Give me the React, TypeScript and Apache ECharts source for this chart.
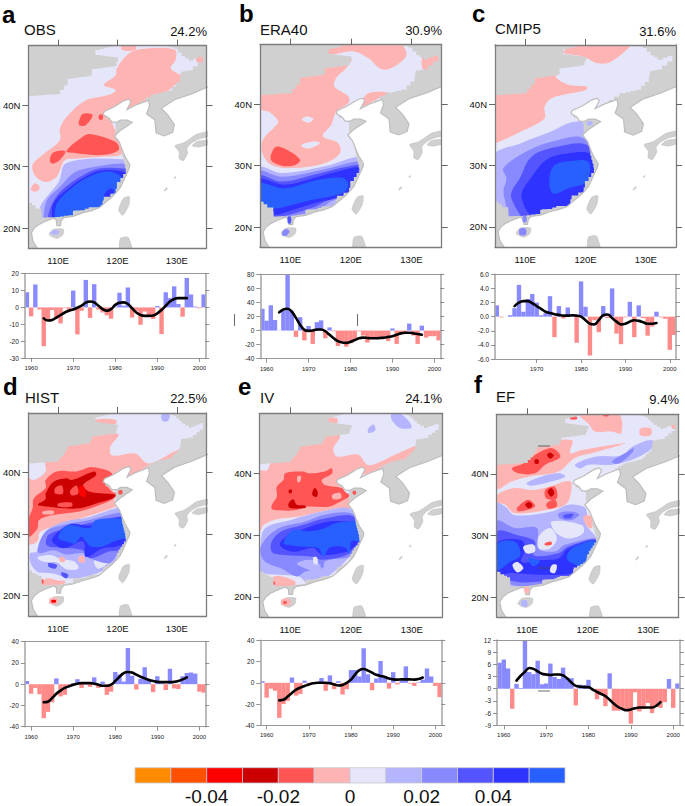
import React, { useEffect, useRef } from "react";
import * as echarts from "echarts";

const levelColors = ["#ff8c00","#ff5000","#ff0000","#cc0000","#ff5555","#ffb4b4","#e6e6fa","#b4b4ff","#8888ff","#5555ff","#2f33ff","#2860ff"];
const legendValues = [2,4,6,8,10];
const legendLabels = ["-0.04","-0.02","0","0.02","0.04"];
const R3=2,R2=3,R1=4,P=5,L=6,B1=7,B2=8,B3=9,B4=10,B5=11;
type Region=[number,number[]];

const years59 = Array.from({length:43},(_, i)=>1959+i);
const years61 = Array.from({length:41},(_, i)=>1961+i);
const years63 = Array.from({length:35},(_, i)=>1963+i);
const years65 = Array.from({length:33},(_, i)=>1965+i);

const obsBars=[9,-5.3,13.6,-1.2,-23,-7.5,-1.5,-6,-9.5,-0.3,-2.5,10,-16,-2,16.3,-6.2,13.8,-1.3,-3,-4.7,-6.7,0.5,8.7,1,11.8,-6,-2,-10.3,-2.5,-5,-6.8,0.8,-15.8,9,5.5,12.5,2,-5.5,17.5,7.7,0.5,-0.5,7.7];
const obsLine=[-6.5,-7.8,-7.5,-6,-4.5,-3,-2,-1.2,-0.2,1,2.8,3.5,3,1,-1,-2,-1,1.5,2.8,3,2,-0.5,-3,-4.5,-5,-5,-4.8,-3.5,-1.5,1,3.5,5,5.5,5.5,5.5];
const eraBars=[31,14,36,15,0.3,28,80,28,-9,19,-14,6.5,-19,12,14.5,-11,4.5,-1,-22,-15,-23,-18,-14,-1,-7,-17,-10,-10,-10,-8,-15,3,-19,-2,-2,10,-7,-19,7,-10,-8,-8,-14];
const eraLine=[26,30,31,27,18,8,1,-0.5,0,1.5,1.5,-1,-6,-11,-15,-17,-17.5,-16,-13.5,-11,-10,-10.5,-11,-11,-10.5,-10,-9,-8,-6,-4,-3,-3,-4,-5,-6];
const cmipBars=[1.6,-0.1,0,0.2,1.2,4.5,0.7,2.5,3.2,2,0.2,0.5,2.9,-2.9,1.5,-0.25,1.3,0.1,-3.7,5,1.4,-5.5,-0.5,-2.2,1.5,-0.2,4,-2.4,-3.9,-0.1,2.1,-2.9,1.6,-0.2,-2.7,-1.4,0.7,-0.1,-0.3,-4.7,-2.6];
const cmipLine=[1.5,2,2.2,2.2,1.9,1.5,1.1,0.7,0.5,0.35,0.25,0.15,0.15,0.2,0.15,0,-0.5,-1,-1.1,-0.5,0.2,0.3,-0.2,-0.7,-1.1,-1,-0.7,-0.5,-0.6,-0.8,-1,-1,-0.9];
const histBars=[3,-9,-3.5,-9.5,-32,-26,-17,5.5,-11.5,-10,-1,1,4.7,-3.5,1.5,-2.5,6.5,-3.5,2.5,-10,-7,11.5,9,2.5,34,8,-5,5,16,5,-7.5,7.5,1,-5.5,14.5,-4,-4.5,7.5,10.5,11,10,-7,-8];
const histLine=[-17,-16.5,-13,-9,-6,-3.5,-2,-0.5,0.5,1,1,1,0.5,-0.5,-1.5,-1.5,-0.5,3,7,10.5,11.5,11,9,7,5.5,4,3,2.2,2,2,2,2.2,3,4.5,6.5];
const ivBars=[1.5,-14,-5.5,-7.5,-33,-20,-17,5,-12,-10.5,2,-1,0,-0.5,4.5,-7.5,7,-6,1.5,-11,-6,12,12,6,32.5,8,-7,4,20.5,6.5,-5.5,10,-1.5,2,15.5,-0.7,-3,0.5,3,13.5,6,-3,-13.5];
const ivLine=[-16.5,-16,-13,-9.5,-6.5,-4.5,-3,-1.5,-0.5,0,0,0,-0.5,-1.5,-2.5,-2,0,3,8,12,13,11.5,9.5,7.5,6.5,5.5,4,3.2,3,3.2,3.2,3.2,3,3.5,5];
const efBars=[6.4,7.2,5,-4.9,1.2,0.2,12,4.1,3.6,6.9,1.1,1.3,6.2,2.9,2.4,5.2,2.7,2.6,-4.1,1,0.9,2.2,-0.2,-2.6,-1.2,-4.3,3.8,-5.4,-5.4,-4.9,-5.5,-8.6,-0.9,-5.6,-5,-3.5,-6,-4.5,-4.7,-3.3,2.4,-4.7,1.3];
const efLine=[2,3.2,4.2,5.1,4.9,4.3,3.7,3.5,3.4,3.5,3.5,3.3,2.5,1.5,0.7,0.5,0.4,0.4,-0.2,-0.8,-1.3,-1.8,-2.7,-3.7,-4.5,-5,-5.3,-5.1,-4.8,-4.6,-4.6,-4.6,-4.6,-4.2,-3.3];

// Coast and masks, lon/lat
const oceanOutline=[106.5,16.7,105.8,17.8,105.5,19.2,106,20,106.8,20.6,107.9,21.1,109.2,21.6,109.7,21.3,109.8,20.4,110.4,20.4,110.5,21.2,111,21.7,112.5,21.9,114.2,22.5,115.5,22.8,116.9,23.3,118,24.2,119.1,25.1,119.8,25.8,120.5,26.6,121.3,28.3,122,29.8,122.1,30.3,121.3,31.6,120.9,32.5,120.3,34,119.5,35,120.5,35.9,122.5,37.2,121.6,37.6,120.5,37.6,119.8,37.2,119,37.3,118.6,37.9,117.6,38.5,117.8,39,119.4,39.7,121,40.7,121.9,41,122.3,40.6,121.6,39.3,123,40,125.2,40.8,125.4,39.9,124.9,38.6,126.3,37.6,126.5,35.5,127.9,35,129.3,35.6,129.6,36.8,128.5,38.4,127.4,39.5,129.6,40.9,132.6,41.9,135.5,43.1,135.5,16,106.5,16];
const islandOutlines=[
[129.7,33.4,131.2,33.9,132.3,34.6,133.4,35.3,135.5,35.7,135.5,35,133.4,34.4,132.4,33.8,131.7,33,131.8,32.2,131.1,31,130.4,31.3,130.4,32.4],
[132.6,33.4,133.4,34.1,135.5,34.3,135.5,33.7,133.7,33.2],
[120.2,22.9,121,24.8,122,25.1,121.9,23.7,120.9,22.1],
[108.5,18.9,109.2,19.8,110.9,19.8,110.8,18.9,109.8,18.3],
[120.4,16,120.5,18.3,121.8,18.5,122.5,16],
[127.9,26.1,128.3,26.6,128.4,26.4,128,26],
[129.6,28.2,129.8,28.4,129.85,28.2,129.65,28.05],
];
const validOutline=[105,41.5,109.7,41.8,111,43.2,111.6,44.3,115.2,44.8,115.7,45.9,119.6,46.4,120.1,47.8,116.3,48.3,116.3,49,119.3,49.7,127.8,49.7,129.5,49.2,130.8,48,132,47.3,134.4,48.2,134.4,47,132.7,45.7,132,45.6,130.8,45.4,130.5,43.7,129.2,42.4,126.7,41.8,125.6,41.3,123,39.5,119,38.8,118,37.8,119.7,37.3,119.7,35.4,120.5,34,120.8,31.6,121.3,29.7,121.4,28.8,120.5,27.5,119.9,26.4,119.7,25.6,118.8,25.1,117.7,24.5,117.5,23.4,115.8,23.4,114.5,22.9,112.8,22.8,112.5,22.1,110.3,21.8,107.3,21.7,107.2,23.2,106.2,23.7,105,24.5];

const obsRegions:Region[]=[
[P,[117.7,43.3,119.7,44.9,119.9,46,121.6,48.2,123.5,49.1,129.6,49.1,129.8,47.4,129,46,131.2,44.4,129.3,43,126.8,40.8,123,39.2,119.7,38.1,119.1,37.3,119.7,35.7,120.5,33.8,120.7,32,117.5,31.6,113.1,31.3,111.2,31.1,110.3,29.4,109.8,28.4,108.1,27.5,106.5,28.1,105.7,29.4,105.8,30.5,107.6,32.1,110.3,34.3,110.3,36.2,111.7,38.4,114.7,40.8,118.6,41.7,119.7,42.5]],
[P,[120.8,50,123,50,123,49,120.8,49]],
[P,[105.4,26.4,106.1,27.3,106.9,26.7,106.5,26,105.7,26]],
[P,[133.3,48.2,134.5,48.4,134.5,47,133.4,47]],
[R1,[113.5,37.3,114.2,38.6,115.8,38.4,114.7,36.8,113.6,36.7]],
[R1,[116.9,38.4,117.5,38.5,117.5,37.7,116.9,37.7]],
[R1,[111.4,32.5,114.2,34.9,115.4,35.3,119.7,34,120.2,32.7,117.5,31.9,113.1,32.2]],
[R1,[108.6,31.1,109.2,32.3,111.2,32.5,110.3,31.1,109,30.5]],
[R1,[125.2,40.9,126,41,125.7,40.6]],
[B1,[106.9,21,107,23.5,108.1,25.1,110.1,27.5,111.4,30.6,120.8,31.2,123,30,123,24,118,20,107,20]],
[B2,[107.5,21,108.1,24.5,110.3,26.7,112.5,28.9,114.7,29.7,120.8,30.5,123,30,123,24,118,20,107.5,20]],
[B3,[108.1,21,109,24,110.9,26.4,114.2,28.6,116.9,29.7,121,29.7,123,29.5,123,24,118,20,108.1,20]],
[B4,[109,21,109.2,24,112,26.7,114.7,28.4,117.5,29.4,121.3,29.1,123,28,123,24,118,20,109,20]],
[B5,[109.4,21,109.8,24,112.5,26.7,115.3,28.4,118,29.2,120,28.8,121.5,27,120,23,112,20,109.4,20]],
[B4,[117.7,25.1,118.6,26.4,119.4,26.2,118.8,24.8]],
];
const obsSpots:Region[]=[[B1,[108.6,19.2,109.4,19.7,110.2,19.5,109.9,18.9]]];

const eraRegions:Region[]=[
[P,[116.3,49.4,116.3,50,127.8,50,129.2,48.1,127.3,46.2,125.1,45.7,122.9,47.5,120.4,48.6,116.3,48.1]],
[P,[132,48.1,134.7,48.6,134.4,46.7,132,45.6]],
[P,[104.7,42.4,111.9,45,120.1,47.3,119.6,46.4,119,45.6,117.6,44.3,117.3,42.9,119.6,41.3,119.6,40.2,117.6,38.8,116.8,36.7,115.4,34.8,117.9,33.7,118.2,32,115.7,30.4,110.2,29.6,106.9,30.1,105.4,32,105.5,34.2,107.5,36.4,108,37.2,106.4,38.8,104.8,39.2]],
[P,[121.8,40.2,122.9,41.8,126.4,41.8,124,40.7,122.3,39.6]],
[L,[111.9,37.5,112.7,38,113.8,37.6,113,37]],
[L,[111.8,33.3,113.5,33.9,114.9,33.7,113,32.8]],
[R1,[106.8,31,107.5,33,108.8,32.9,111.6,31,110.8,30.1,108.6,30]],
[B1,[104.7,29.6,108.6,28.8,115.7,29.9,121.2,31.5,122.3,31,122.6,24.4,115.7,20.9,104.7,20.6]],
[B2,[104.7,29,108.6,28.2,115.2,29.3,121.2,30.7,122.3,30.4,121.2,26,116.8,24.2,114.1,22.3,110.5,21.4,104.7,21.2]],
[B3,[104.7,28.3,108.6,27.4,114.6,28.7,121.2,30.1,121.8,29.3,120.4,26,116.8,24.7,113.5,23.1,107.1,21.4,104.7,21.4]],
[B4,[104.7,27.7,109.1,26.9,114.6,28.2,120.1,29.6,121.3,29.6,120.4,27.1,119,25.2,114.1,23.9,110.2,22.7,107.1,22,104.7,23.3]],
[B5,[104.7,27.1,109.1,26.3,114.6,27.7,118.7,28,119.6,26.9,118.7,25.6,113.5,24.4,110.2,23.6,107.1,23,104.7,23.6]],
];
const eraSpots:Region[]=[[B2,[108.7,19.3,109.4,19.7,109.9,19.3,109.4,18.6,108.7,18.6]],[B3,[109.6,21.7,110.1,21.7,110.1,20.6,109.6,20.6]]];

const cmipRegions:Region[]=[
[P,[116.3,48.6,118.3,50,127.4,50,124.3,47,122.1,46.7,119.6,47.8,116.6,48.3]],
[P,[104.7,41.3,111.6,44.8,114.9,45.3,115.2,44.3,117.2,43.2,120.2,42.9,120.2,42.4,117.7,41.8,114.4,41,113.2,39.6,113.2,37.7,109.4,35.6,105,33.6,104.7,33.6]],
[B1,[104.7,31.5,109.4,33.7,114.4,35.6,117.4,37,119.6,37,120.2,34.2,121.9,28.8,114.9,21.2,104.7,21.2]],
[B2,[106.4,29.6,110.2,32.3,114.4,33.9,119.6,34.5,122,29.9,116,20,106.9,21,106.9,23.1,106.4,25.8,106.9,27.9]],
[B3,[107.8,25.8,109.1,27.9,111.1,31.5,115.5,33.1,120.2,33.4,122,29.9,121,25,115,20.5,110.2,21,107.8,24.4]],
[B4,[109.4,25,111.1,28.2,113.6,31,117.2,32,120.7,32,121.8,30.4,121.3,28.2,120.8,25,118,22,111.6,21.5]],
[B5,[114,27.1,114.7,29.9,117.2,30.7,120.5,30.6,120.2,27.4,117.2,26.3,114.7,25.4]],
];
const cmipSpots:Region[]=[[B2,[109.1,19.7,110.1,19.7,110.1,18.7,109.1,18.7]],[B2,[109.6,21.7,110.2,21.7,110.2,20.8,109.6,20.8]],[B1,[120.3,37.2,121.1,37.2,121.1,36.6,120.3,36.6]]];

const histRegions:Region[]=[
[P,[107.9,41.8,112,45,119.7,46.4,120.2,46.1,118.8,44.2,119.1,42.8,123,43.1,125.2,41.5,130.1,43.7,131.8,44.2,130.7,42.3,124.6,40.2,119.7,38.5,119.4,35.8,119.9,34.7,117.5,33.7,112,32,107,30.4,106.5,28.8,105.1,28.5,104.8,39.1,105.9,38.8,107.9,40.2]],
[P,[116.3,48.6,119.7,48.6,119.7,47.9,116.3,47.9]],
[R1,[107.9,38.8,109.8,40.2,113.1,40.2,115.8,40.9,119.1,39.9,118,38.5,119.1,36.9,119.9,36.6,119.4,35.8,116.9,34.7,113.6,33.7,109.2,33.1,106.8,32.3,106.5,30.9,105,29.6,105,32.3,105.7,34.2,105.9,35.8,107.9,37.5]],
[R2,[106.6,34.8,107.9,35.7,107.9,36.6,109.2,38.5,111.4,39.1,112.3,38.8,116.1,40.2,116.4,39.6,114.2,38,115.3,36.9,119.7,36.4,119.1,35.8,116.4,35,113.6,34.2,110.9,34.2,108.1,34.5]],
[R1,[109.5,37.5,110.6,37.9,110.8,36.6,109.5,36.6]],
[R1,[112,37,113.1,37.9,113.4,36.6,112.3,36.3]],
[R1,[110,35,112.3,35.1,112.3,34.5,110,34.5]],
[R3,[113.6,37.7,114.4,37.7,114.6,36.1,113.7,36.3]],
[P,[107.4,33.7,109.2,33.8,109.2,33.3,107.4,33.3]],
[B1,[106.8,28.5,108.1,30.7,110.9,32,115.3,32.8,119.7,34.2,121,34.2,122.4,30.4,120.2,26.6,119.1,25,115.8,23.4,112,22.8,109.2,23.6,106.5,23.9,105.3,25.5,105.3,26.9,106.5,27.2]],
[L,[106.5,26.2,108.7,26.6,110.3,26,112.8,25.5,113.4,24.4,111.4,24.3,109.8,25.4,107.6,25.5]],
[L,[116.1,25.8,118,26.6,118.3,25.3,116.7,24.4]],
[P,[113.4,26.2,114.2,26.5,114.5,25.5,113.6,25.4]],
[P,[110.2,26.2,110.9,26.3,111.2,25.6,110.4,25.5]],
[P,[107,22,108.1,22.8,109.8,22.5,111.2,22.3,110.3,21.5,107.9,21.6]],
[R1,[107.1,22.6,107.5,22.6,107.5,22,107.1,22]],
[B2,[106.5,27.4,107.9,30.4,110.9,31.5,115.3,32.3,119.7,33.4,121,33.4,121.8,29.3,119.9,26.6,118.6,25.3,115.3,26.1,114.2,26.9,111.4,26.7,109.2,27.4,107,26.9]],
[B3,[108.1,28.2,108.4,29.9,111.4,30.9,115.3,31.8,119.7,32.8,120.8,32.6,121.8,29.3,120.2,27.4,118.6,27.2,115.4,26.1,114.2,27.4,110.3,27.8]],
[B3,[108.4,25.3,109.8,25,109.5,24.4,108.4,24.7]],
[B3,[110.6,23.8,111.7,23.4,111.4,22.8,110.6,23.3]],
[B4,[109,28.8,109.2,29.6,112,31.6,115.3,31.4,119.9,32.6,122,33,122,29,119.9,28,117.5,27.7,114.7,26.3,114.2,28.8,110.9,27.7]],
[B5,[110.1,29.3,111.4,28.8,112.8,28.5,113.9,29.6,114.7,28.8,115.5,28,117.5,28,119.4,28.8,122,29.9,122,33,120.7,32.6,116.4,32.3,115.3,31,112,31.5,110.6,30.7]],
];
const histSpots:Region[]=[[P,[108.6,19.6,109.9,19.6,109.9,18.7,108.6,18.7]],[R3,[108.9,19.3,109.6,19.3,109.6,18.9,108.9,18.9]],[R1,[120.2,37.1,120.8,37.1,120.8,36.5,120.2,36.5]],[B1,[127.4,49.4,128.8,49.4,128.5,48.4,127.6,48.4]]];

const ivRegions:Region[]=[
[P,[107,41.9,111.6,44.6,117.4,46.5,118.2,45.9,117.1,44,117.7,42.7,121.2,43,122.9,41.3,127.2,43,131.6,44.6,130.5,42.2,122.9,40,118.2,38.7,119.8,36,120.4,34.6,117.4,34.3,111.5,33,107.5,32.5,105.6,31.6,105.1,30.6,104.8,30.6,104.8,40.3,106.2,40.5]],
[P,[116.3,48.9,117.7,48.9,117.7,48.1,116.3,48.1]],
[R1,[107,34.9,107.8,36.2,107.8,37.8,108.9,38.9,109.2,40,112.2,40.3,113,40,115.7,40.3,116.8,40.8,116.9,40,115.2,38.9,115.7,38.1,118.5,37.6,119,37,119.8,36.4,118.2,35.4,116.3,34.6,112.5,34.6,110.8,34,108.1,34,107,34.2]],
[R2,[109.7,35,110.5,35.8,111.1,34.9,112.5,34.8,112.5,34.4,110,34.4]],
[R2,[113.7,37.1,114.1,37.6,114.5,37,114.4,36.2,113.7,36.4]],
[R2,[109.8,37.3,110.3,37.3,110.2,36.8,109.8,36.8]],
[P,[116.9,36.5,118.2,36.8,118.4,36,117.1,35.8]],
[P,[111.2,39.5,111.8,39.5,111.6,38.6,111.2,38.6]],
[B1,[105.1,28.1,105.9,31.1,110.3,32.5,115.2,33.8,119.8,34.3,121.2,31.6,121.5,28.9,119,25.7,115.7,23,113,22.2,111.4,23.3,108.1,23.6,105.9,23.8,104.8,24.5]],
[B2,[105.1,27.3,105.6,28.9,108.1,31.1,112.5,32.2,115.7,33.3,120.1,33.5,121.2,31.6,121.2,28.9,119.6,26.5,116.8,26,115.2,24.6,112.5,24.1,111.1,23.3,108.6,24.6,105.9,25.7]],
[B1,[111.1,25.4,113.3,26,114.9,25.2,114.9,23.8,112.5,24.6]],
[B1,[115.7,25.7,118.8,26,117.4,24.4,116,23.8]],
[B3,[107,29,108.6,30.6,111.9,31.6,115.7,32.7,120.4,33,120.9,29.5,119.6,27,115.2,26,113.8,26.5,108.6,26.8,107,27.3]],
[B4,[108.3,28.4,109.7,30,112.5,31.1,116.3,32.2,120.7,32.2,122,32.5,122,29,120.4,28,119.3,27.3,115.2,26.8,113.8,27.9,110.5,27.3]],
[B5,[108.9,28.7,110.5,30.8,113,30.6,115.7,31.1,117.4,31.9,120.7,32.3,122,32.5,122,29,120.1,29,119.8,27,119,28,116.5,28,115.5,26.5,114.6,27.9,112.5,28.1,110.3,28.3]],
[L,[113.8,26.4,114.4,26.4,114.5,25.3,113.9,25.4]],
[P,[107,23,108.1,23.4,110.8,22.5,110.5,21.5,107.5,21.7]],
[R1,[107.1,22.4,107.5,22.4,107.5,22,107.1,22]],
[B1,[126.7,49.7,128.1,49.7,130,47.5,128.1,47.3,126.7,48.6]],
[B1,[123.7,47.9,124,47,122.9,46.5,122.8,47.2]],
];
const ivSpots:Region[]=[[P,[108.6,19.6,110,19.6,110,18.7,108.6,18.7]],[R1,[108.9,19.3,109.4,19.3,109.4,18.9,108.9,18.9]],[R1,[120.3,37.1,120.8,37.1,120.8,36.6,120.3,36.6]]];

const efRegions:Region[]=[
[P,[118.7,49.6,125.1,49.7,125.5,46.6,124,46.9,121.2,46.9,120.1,48.2]],
[P,[128.7,47.4,130.4,47.4,130.4,46.3,128.7,46.3]],
[P,[133.9,48.2,134.7,48.2,134.7,47.4,133.9,47.4]],
[P,[105,42,111.9,44.7,117.4,45.5,117.1,43.4,119,43.9,126.2,45,121.2,43.5,117.9,42.6,115.2,40.4,110.5,39.6,107.5,38.8,105,37.6]],
[P,[105,36.6,108,37.7,110.8,37.4,113.5,37.9,117.1,38.8,117.1,36.3,116.3,35,114.1,34.3,108,33.6,106.4,35,105,35.5]],
[B1,[109.9,38.5,112.4,39.6,115.2,40.1,116.3,39.6,114.1,38.8,110.8,38.1]],
[B1,[117.9,41.5,121.2,42.8,125.6,43,127.3,44.4,130.6,45.5,130.6,44.2,127.3,42.3,124,41.5,120.1,41.5,118.7,40.9]],
[B2,[124,42,126.2,43.4,127.6,44.2,127.3,43.4,125.1,41.7]],
[R1,[107.5,40.9,109.4,41.7,111.3,43.1,114.1,44.2,115.5,42.8,113,41.5,111.3,40.1,108.6,40.1]],
[R1,[108.3,34.4,110.2,35.8,111.3,34.7,108.6,33.9]],
[R1,[113,37.4,114.6,37.9,114.9,36,113.2,36]],
[R1,[113.2,35.2,114.6,35.8,114.9,34.7,113.5,34.4]],
[R2,[109.7,35,110.3,35.5,110.9,34.9,110.3,34.4]],
[R2,[113.4,37.1,114,37.7,114.5,36.9,114,36.3]],
[R2,[113.3,43.1,113.8,43.5,114.4,43,113.8,42.5]],
[R2,[111.3,42.3,111.9,42.3,111.9,41.7,111.3,41.7]],
[R1,[117.1,49.3,118.2,49.3,118.2,48.9,117.1,48.9]],
[R1,[122.6,49.7,123.4,49.7,123.4,49.4,122.6,49.4]],
[B1,[105,35.2,106.4,34.7,108,33.3,114.1,33.9,116.8,35,119.3,34.7,119.9,33.6,119.6,32,121.5,29.5,122,27,118.5,22,114.1,20.5,106.9,20.5,105,23.6]],
[P,[119.3,33.1,120.7,33.1,120.7,31.2,119.9,31.5]],
[L,[114.1,32.3,119,31.7,119.3,30.4,116.8,29.5,114.6,30.6]],
[L,[111.9,29.8,113.8,31.2,114.9,29.5,113.8,27.9,111.9,27.9]],
[B2,[105,32.3,108,31.2,111.6,31.2,111.9,27.9,114.6,27.4,116.3,28.5,122,29.3,120,24.5,116.3,22,111.9,21.5,107.5,22,105,23.6]],
[B3,[105,30.6,108.6,30,111.3,29,111.1,26.8,115.2,27.1,116.8,28.2,121.5,29.2,120,24.5,116.8,23,112.4,22.5,108,22.5,105,23.8]],
[B4,[105,28.7,108.9,29.3,109.7,27.9,109.1,25.7,112.4,26,115.2,26.3,116.8,27.9,121.3,29.1,120,25,117.4,23.8,112.4,23.6,107.5,23.9,105,23.8]],
[B5,[105,28.5,108,29,108.9,26.8,107.2,25.7,105,24.4]],
[B5,[116.6,26.8,117.9,28.2,121.3,29,120.2,25,117,25.7]],
[B5,[110.2,26.3,112.1,25.8,111,25]],
[L,[107.6,25.2,108.4,25.7,109.4,24.7,108.4,24]],
[L,[109.4,28.2,111.1,28.5,111.3,27.4,109.9,27.1]],
[L,[114.1,25.2,114.9,25.2,114.6,23.9,113.8,24.1]],
[R1,[112.9,28.7,114,29,114,28.5,113,28.4]],
[B2,[115.2,33.6,117.1,33.9,118.6,33.4,117.3,32.5,115.4,32.8]],
[B3,[116,33.3,117.6,33.5,117.3,32.9,116.2,32.8]],
];
const efSpots:Region[]=[[B1,[109.1,19.4,110,19.4,110,18.5,109.1,18.5]],[P,[109.6,21.6,110.3,21.6,110.3,20.7,109.6,20.7]]];

const yearTicks=[1960,1970,1980,1990,2000];
const lonTicks=[110,120,130];
const latTicks=[20,30,40];

type Panel={letter:string;name:string;pct:string;lx:number;ly:number;tx:number;ty:number;px:number;py:number;
 map:[number,number,number,number];bar:[number,number,number,number];xMin:number;xMax:number;
 yMin:number;yMax:number;yInt:number;dec:number;barYears:number[];bars:number[];lineYears:number[];line:number[];
 regions:Region[];spots:Region[];step:number};

const panels:Panel[]=[
{letter:"a",name:"OBS",pct:"24.2%",lx:2,ly:14,tx:24,ty:29,px:207,py:31,map:[24.5,45.7,182,202.6],bar:[24.8,273.7,180.5,84.3],xMin:1958.5,xMax:2001.4,yMin:-30,yMax:20,yInt:10,dec:0,barYears:years59,bars:obsBars,lineYears:years63,line:obsLine,regions:obsRegions,spots:obsSpots,step:0.75},
{letter:"b",name:"ERA40",pct:"30.9%",lx:239,ly:13,tx:260,ty:29,px:442,py:30,map:[260,44.7,181.7,202.6],bar:[260.3,274.3,180,84.4],xMin:1958.5,xMax:2001.4,yMin:-40,yMax:80,yInt:20,dec:0,barYears:years59,bars:eraBars,lineYears:years63,line:eraLine,regions:eraRegions,spots:eraSpots,step:0.75},
{letter:"c",name:"CMIP5",pct:"31.6%",lx:472,ly:13,tx:495,ty:28,px:676,py:31,map:[495,45,181,202],bar:[495,274.3,181,84.7],xMin:1960.6,xMax:2001.4,yMin:-6,yMax:6,yInt:2,dec:1,barYears:years61,bars:cmipBars,lineYears:years65,line:cmipLine,regions:cmipRegions,spots:cmipSpots,step:0.75},
{letter:"d",name:"HIST",pct:"22.5%",lx:3,ly:386,tx:25,ty:397,px:207,py:398,map:[24.5,413,182,203],bar:[24.8,641.7,180.5,85],xMin:1958.5,xMax:2001.4,yMin:-40,yMax:40,yInt:20,dec:0,barYears:years59,bars:histBars,lineYears:years63,line:histLine,regions:histRegions,spots:histSpots,step:0.5},
{letter:"e",name:"IV",pct:"24.1%",lx:238,ly:386,tx:260,ty:397,px:442,py:398,map:[259.7,413.3,182.6,204],bar:[260.3,640.3,181,85],xMin:1958.5,xMax:2001.4,yMin:-40,yMax:40,yInt:20,dec:0,barYears:years59,bars:ivBars,lineYears:years63,line:ivLine,regions:ivRegions,spots:ivSpots,step:0.5},
{letter:"f",name:"EF",pct:"9.4%",lx:474,ly:384,tx:496,ty:396,px:679,py:399,map:[496.7,414.3,182,203],bar:[497,640,183,85.3],xMin:1958.4,xMax:2001.6,yMin:-9,yMax:12,yInt:3,dec:0,barYears:years59,bars:efBars,lineYears:years63,line:efLine,regions:efRegions,spots:efSpots,step:0.5},
];

const FONT="'Liberation Sans', Arial, sans-serif";
const LAND="#d0d0d0";
const chunk=(a:number[])=>{const o:number[][]=[];for(let i=0;i<a.length;i+=2)o.push([a[i],a[i+1]]);return o;};
function stairs(a:number[],step:number){
  const p=chunk(a);const out:number[][]=[p[0]];
  for(let i=0;i<p.length-1;i++){
    const [x0,y0]=p[i],[x1,y1]=p[i+1];
    const n=Math.max(1,Math.round(Math.max(Math.abs(x1-x0),Math.abs(y1-y0))/step));
    for(let k=1;k<=n;k++){
      const x=x0+(x1-x0)*k/n,y=y0+(y1-y0)*k/n;
      out.push([x,out[out.length-1][1]]);out.push([x,y]);
    }
  }
  return out;
}
type Draw={pts:number[][];fill:string;smooth?:number;stroke?:string;lw?:number};
function drawList(p:Panel):Draw[]{
  const list:Draw[]=[];
  list.push({pts:[[105,49.7],[135,49.7],[135,16.7],[105,16.7]],fill:levelColors[L]});
  p.regions.forEach(([lv,a])=>list.push({pts:chunk(a),fill:levelColors[lv],smooth:0.35}));
  const hole=stairs(validOutline,p.step);
  list.push({pts:[[105,41.5],[105,16.7],[135,16.7],[135,49.7],[105,49.7],[105,41.5],...hole,[105,41.5]],fill:LAND});
  list.push({pts:chunk(oceanOutline),fill:"#ffffff",stroke:"#bdbdbd",lw:1.2});
  islandOutlines.forEach(a=>list.push({pts:chunk(a),fill:LAND,stroke:"#bdbdbd",lw:0.6,smooth:0.2}));
  p.spots.forEach(([lv,a])=>list.push({pts:chunk(a),fill:levelColors[lv],smooth:0.3}));
  return list;
}

function buildOption(){
  const grid:any[]=[],xAxis:any[]=[],yAxis:any[]=[],series:any[]=[],graphic:any[]=[];
  const txt={color:"#111",fontFamily:FONT};
  panels.forEach(p=>{
    // map
    let g=grid.length;let xi=xAxis.length;let yi=yAxis.length;
    grid.push({left:p.map[0],top:p.map[1],width:p.map[2],height:p.map[3],containLabel:false});
    const mapLine={show:true,onZero:false,lineStyle:{color:"#7d7d7d",width:1.3}};
    const mapTick={show:true,length:6,lineStyle:{color:"#666",width:1}};
    xAxis.push({type:"value",gridIndex:g,position:"bottom",min:105,max:135,z:5,axisLine:mapLine,splitLine:{show:false},
      axisTick:{show:false},axisLabel:{show:true,customValues:lonTicks,formatter:(v:number)=>v+"E",fontSize:9.5,margin:7,...txt}});
    xAxis.push({type:"value",gridIndex:g,position:"top",min:105,max:135,z:5,axisLine:mapLine,splitLine:{show:false},
      axisTick:{...mapTick,customValues:lonTicks},axisLabel:{show:false}});
    yAxis.push({type:"value",gridIndex:g,position:"left",min:16.7,max:49.7,z:5,axisLine:mapLine,splitLine:{show:false},
      axisTick:{...mapTick,customValues:latTicks},axisLabel:{show:true,customValues:latTicks,formatter:(v:number)=>v+"N",fontSize:9.5,margin:8,...txt}});
    yAxis.push({type:"value",gridIndex:g,position:"right",min:16.7,max:49.7,z:5,axisLine:mapLine,splitLine:{show:false},
      axisTick:{...mapTick,customValues:latTicks},axisLabel:{show:false}});
    const dl=drawList(p);
    series.push({type:"custom",xAxisIndex:xi,yAxisIndex:yi,silent:true,clip:true,z:2,
      data:dl.map((_,i)=>[i,i]),
      renderItem:(params:any,api:any)=>{
        const d=dl[params.dataIndex];
        return {type:"polygon",shape:{points:d.pts.map(q=>api.coord(q)),smooth:d.smooth||0},
          style:{fill:d.fill,stroke:d.stroke||null,lineWidth:d.lw||0}};
      }});
    // bars
    g=grid.length;xi=xAxis.length;yi=yAxis.length;
    grid.push({left:p.bar[0],top:p.bar[1],width:p.bar[2],height:p.bar[3],containLabel:false});
    const sideLine={show:true,onZero:false,lineStyle:{color:"#aaaaaa",width:1.6}};
    const flatLine={show:true,onZero:false,lineStyle:{color:"#999999",width:1}};
    const barTick={show:true,length:4,lineStyle:{color:"#777",width:0.8}};
    xAxis.push({type:"value",gridIndex:g,position:"bottom",min:p.xMin,max:p.xMax,z:5,axisLine:flatLine,splitLine:{show:false},
      axisTick:{...barTick,customValues:yearTicks},axisLabel:{show:true,customValues:yearTicks,fontSize:6,margin:7,formatter:(v:number)=>String(v),color:"#222",fontFamily:FONT}});
    xAxis.push({type:"value",gridIndex:g,position:"top",min:p.xMin,max:p.xMax,z:5,axisLine:flatLine,splitLine:{show:false},axisTick:{show:false},axisLabel:{show:false}});
    yAxis.push({type:"value",gridIndex:g,position:"left",min:p.yMin,max:p.yMax,interval:p.yInt,z:5,axisLine:sideLine,splitLine:{show:false},
      axisTick:barTick,axisLabel:{show:true,fontSize:6.5,margin:6,formatter:(v:number)=>v.toFixed(p.dec),color:"#222",fontFamily:FONT}});
    yAxis.push({type:"value",gridIndex:g,position:"right",min:p.yMin,max:p.yMax,interval:p.yInt,z:5,axisLine:sideLine,splitLine:{show:false},
      axisTick:barTick,axisLabel:{show:false}});
    series.push({type:"bar",xAxisIndex:xi,yAxisIndex:yi,silent:true,barWidth:4.4,
      data:p.bars.map((v,i)=>[p.barYears[i],v]),
      itemStyle:{color:(o:any)=>o.value[1]>=0?"#8a8aff":"#ff8a8a"}});
    series.push({type:"line",xAxisIndex:xi,yAxisIndex:yi,silent:true,symbol:"none",smooth:0.4,z:4,
      data:p.line.map((v,i)=>[p.lineYears[i],v]),lineStyle:{color:"#000",width:2.6,cap:"round"}});
    graphic.push({type:"text",x:p.lx,y:p.ly,style:{text:p.letter,font:`bold 24px ${FONT}`,fill:"#000",verticalAlign:"middle"}});
    graphic.push({type:"text",x:p.tx,y:p.ty,style:{text:p.name,font:`15px ${FONT}`,fill:"#111",verticalAlign:"middle"}});
    graphic.push({type:"text",x:p.px,y:p.py,style:{text:p.pct,font:`13px ${FONT}`,fill:"#111",align:"right",verticalAlign:"middle"}});
  });
  // stray rule marks present in the figure
  [[234.5,314,234.5,326],[357.5,314,357.5,326],[538,446,550,446],[538,568,550,568],[538,691,550,691]].forEach(s=>
    graphic.push({type:"line",shape:{x1:s[0],y1:s[1],x2:s[2],y2:s[3]},style:{stroke:"#444",lineWidth:0.8},z:20}));
  // legend
  const g=grid.length,xi=xAxis.length,yi=yAxis.length;
  grid.push({left:135,top:767.7,width:430,height:19,containLabel:false});
  xAxis.push({type:"value",gridIndex:g,min:0,max:12,axisLine:{show:false},axisTick:{show:false},splitLine:{show:false},
    axisLabel:{show:true,customValues:legendValues,formatter:(v:number)=>legendLabels[legendValues.indexOf(v)],fontSize:19,margin:4,...txt}});
  yAxis.push({type:"value",gridIndex:g,min:0,max:1,show:false});
  series.push({type:"custom",xAxisIndex:xi,yAxisIndex:yi,silent:true,data:levelColors.map((_,i)=>[i,0]),
    renderItem:(params:any,api:any)=>{
      const a=api.coord([params.dataIndex,1]),b=api.coord([params.dataIndex+1,0]);
      return {type:"rect",shape:{x:a[0],y:a[1],width:b[0]-a[0],height:b[1]-a[1]},
        style:{fill:levelColors[params.dataIndex],stroke:"#c8c8d0",lineWidth:0.8}};
    }});
  return {animation:false,backgroundColor:"#fff",grid,xAxis,yAxis,series,graphic:{elements:graphic}};
}

export default function App(){
  const ref=useRef<HTMLDivElement>(null);
  useEffect(()=>{
    const c=echarts.init(ref.current!,undefined,{renderer:"svg"});
    c.setOption(buildOption());
    return ()=>c.dispose();
  },[]);
  return <div ref={ref} style={{position:"absolute",left:0,top:0,width:685,height:806}}/>;
}
